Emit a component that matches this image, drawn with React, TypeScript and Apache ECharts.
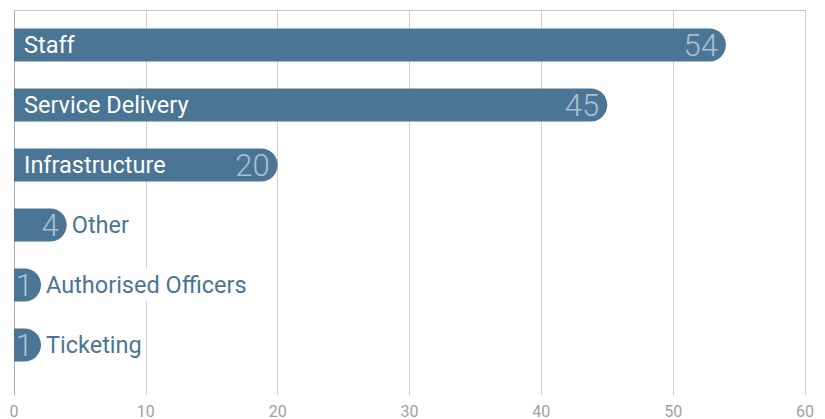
import React, { useEffect, useRef } from "react";
import * as echarts from "echarts";

const categories = ["Staff", "Service Delivery", "Infrastructure", "Other", "Authorised Officers", "Ticketing"];
const values = [54, 45, 20, 4, 1, 1];
const insideLabel = [true, true, true, false, false, false];
const xTicks = [0, 10, 20, 30, 40, 50, 60];

const BAR = "#4a7594";
const VALUE_COLOR = "#a9c0d3";
const FONT = "Roboto, 'DejaVu Sans', sans-serif";

export default function App() {
  const ref = useRef<HTMLDivElement>(null);
  useEffect(() => {
    if (!ref.current) return;
    const chart = echarts.init(ref.current, null, { renderer: "svg" });
    const xMin = xTicks[0];
    const xMax = xTicks[xTicks.length - 1];
    const step = xTicks[1] - xTicks[0];
    chart.setOption({
      animation: false,
      textStyle: { fontFamily: FONT },
      grid: [
        { left: 14, right: 20, top: 10, bottom: 19 },
        { left: 14, right: 20, top: 15, height: 360 },
      ],
      xAxis: [
        {
          gridIndex: 0,
          type: "value",
          min: xMin,
          max: xMax,
          interval: step,
          axisLine: { show: false },
          axisTick: { show: false },
          axisLabel: { color: "#a0a0a0", fontSize: 16, margin: 8, fontFamily: FONT },
          splitLine: { show: true, lineStyle: { color: "#d0d0d0", width: 1 } },
        },
        {
          gridIndex: 0,
          type: "value",
          position: "top",
          min: xMin,
          max: xMax,
          interval: step,
          axisLine: { show: true, lineStyle: { color: "#c8c8c8", width: 1 } },
          axisTick: { show: false },
          axisLabel: { show: false },
          splitLine: { show: false },
        },
        {
          gridIndex: 1,
          type: "value",
          min: xMin,
          max: xMax,
          show: false,
        },
      ],
      yAxis: [
        {
          gridIndex: 0,
          type: "category",
          data: [""],
          axisLine: { show: true, lineStyle: { color: "#aaaaaa", width: 1 } },
          axisTick: { show: false },
          axisLabel: { show: false },
          splitLine: { show: false },
        },
        {
          gridIndex: 1,
          type: "category",
          inverse: true,
          data: categories,
          show: false,
        },
      ],
      series: [
        {
          type: "bar",
          xAxisIndex: 2,
          yAxisIndex: 1,
          barWidth: 33,
          barMinHeight: 27,
          itemStyle: { color: BAR, borderRadius: [0, 17, 17, 0] },
          data: values.map((v, i) => ({
            value: v,
            label: insideLabel[i]
              ? {
                  show: true,
                  position: "insideLeft",
                  distance: 10,
                  formatter: categories[i],
                  color: "#ffffff",
                  fontSize: 23.5,
                  fontFamily: FONT,
                }
              : {
                  show: true,
                  position: "right",
                  distance: 3,
                  formatter: categories[i],
                  color: BAR,
                  fontSize: 23.5,
                  fontFamily: FONT,
                  backgroundColor: "#ffffff",
                  lineHeight: 33,
                  padding: [0, 4, 0, 2],
                },
          })),
        },
        {
          type: "bar",
          xAxisIndex: 2,
          yAxisIndex: 1,
          barWidth: 33,
          barMinHeight: 27,
          barGap: "-100%",
          itemStyle: { color: "rgba(0,0,0,0)" },
          data: values,
          label: {
            show: true,
            position: "insideRight",
            distance: 8,
            color: VALUE_COLOR,
            fontSize: 31,
            fontWeight: 300,
            fontFamily: FONT,
          },
        },
      ],
    });
    return () => chart.dispose();
  }, []);
  return <div ref={ref} style={{ position: "absolute", left: 0, top: 0, width: 825, height: 419 }} />;
}
